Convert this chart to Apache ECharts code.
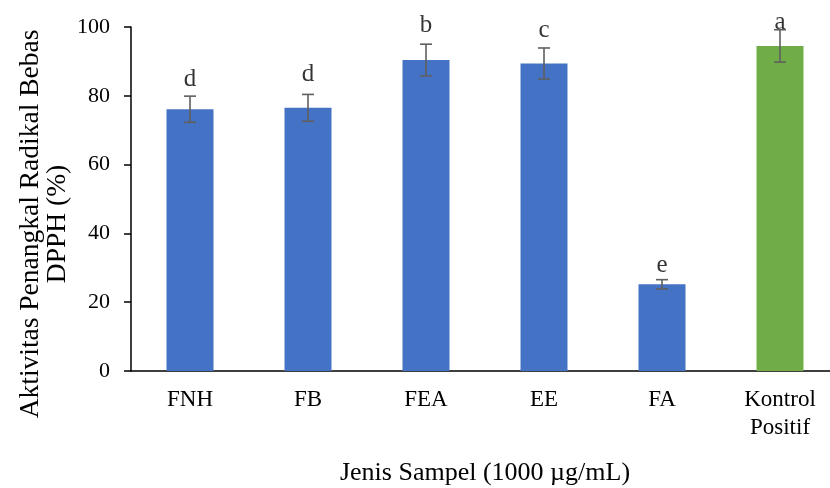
<!DOCTYPE html>
<html>
<head>
<meta charset="utf-8">
<script src="https://cdn.jsdelivr.net/npm/echarts@6/dist/echarts.min.js"></script>
<style>
html,body{margin:0;padding:0;background:#fff;}
#chart{width:830px;height:488px;}
</style>
</head>
<body>
<div id="chart"></div>
<script>
const categories = ['FNH', 'FB', 'FEA', 'EE', 'FA', 'Kontrol\nPositif'];
const values = [76.1, 76.5, 90.4, 89.4, 25.2, 94.5];
const errors = [3.8, 3.9, 4.6, 4.5, 1.35, 4.7];
const letters = ['d', 'd', 'b', 'c', 'e', 'a'];
const letterPos = [84.8, 86.1, 100.5, 99.0, 30.7, 101.2];
const barColors = ['#4472C4', '#4472C4', '#4472C4', '#4472C4', '#4472C4', '#70AD47'];
const yTicks = { min: 0, max: 100, interval: 20 };

const FONT = '"Liberation Serif", "Times New Roman", serif';

const chart = echarts.init(document.getElementById('chart'));

const barData = values.map((v, i) => ({ value: v, itemStyle: { color: barColors[i] } }));
const errData = values.map((v, i) => [i, v - errors[i], v + errors[i]]);
const letterData = letters.map((l, i) => ({ value: [i, letterPos[i]], name: l }));

chart.setOption({
  animation: false,
  backgroundColor: '#fff',
  grid: { left: 131, right: -9, top: 27, bottom: 117, containLabel: false, outerBoundsMode: 'none' },
  xAxis: {
    type: 'category',
    data: categories,
    name: 'Jenis Sampel (1000 µg/mL)',
    nameLocation: 'middle',
    nameGap: 89,
    nameMoveOverlap: false,
    nameTextStyle: { fontFamily: FONT, fontSize: 26, color: '#000' },
    axisLine: { lineStyle: { color: '#000', width: 1.5 } },
    axisTick: { show: false },
    axisLabel: { fontFamily: FONT, fontSize: 23, color: '#000', lineHeight: 28, margin: 15, interval: 0 },
    splitLine: { show: false }
  },
  yAxis: {
    type: 'value',
    min: yTicks.min,
    max: yTicks.max,
    interval: yTicks.interval,
    name: 'Aktivitas Penangkal Radikal Bebas\nDPPH (%)',
    nameLocation: 'middle',
    nameGap: 60,
    nameMoveOverlap: false,
    nameTextStyle: { fontFamily: FONT, fontSize: 27.5, color: '#000', lineHeight: 27, padding: [0, 50, 0, 0] },
    axisLine: { show: true, lineStyle: { color: '#000', width: 1.5 } },
    axisTick: { show: true, length: 7, lineStyle: { color: '#000', width: 1.5 } },
    axisLabel: { fontFamily: FONT, fontSize: 22, color: '#000', margin: 21 },
    splitLine: { show: false }
  },
  series: [
    {
      type: 'bar',
      data: barData,
      barWidth: 47,
      z: 2
    },
    {
      type: 'custom',
      data: errData,
      z: 3,
      renderItem: function (params, api) {
        const x = api.value(0);
        const lo = api.coord([x, api.value(1)]);
        const hi = api.coord([x, api.value(2)]);
        const cap = 6;
        const style = { stroke: '#5f5f5f', lineWidth: 1.6 };
        return {
          type: 'group',
          children: [
            { type: 'line', shape: { x1: hi[0], y1: hi[1], x2: lo[0], y2: lo[1] }, style: style },
            { type: 'line', shape: { x1: hi[0] - cap, y1: hi[1], x2: hi[0] + cap, y2: hi[1] }, style: style },
            { type: 'line', shape: { x1: lo[0] - cap, y1: lo[1], x2: lo[0] + cap, y2: lo[1] }, style: style }
          ]
        };
      }
    },
    {
      type: 'scatter',
      data: letterData,
      symbolSize: 0,
      clip: false,
      z: 4,
      label: {
        show: true,
        position: 'inside',
        formatter: p => p.name,
        fontFamily: FONT,
        fontSize: 25,
        color: '#000'
      }
    }
  ]
});
</script>
</body>
</html>
